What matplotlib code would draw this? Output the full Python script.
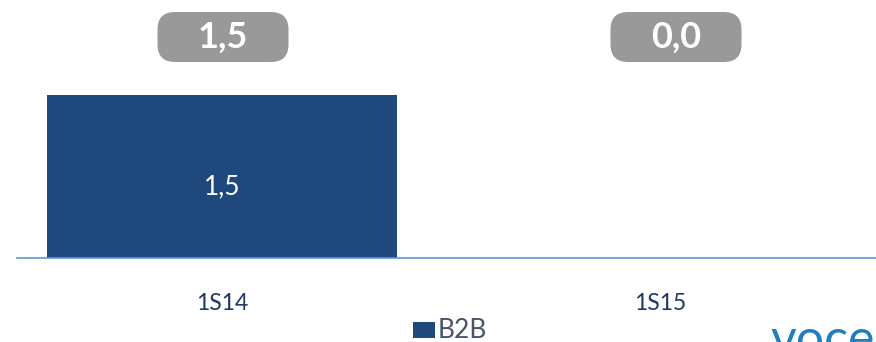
import matplotlib
matplotlib.use("Agg")
from matplotlib import pyplot as plt
from matplotlib.patches import FancyBboxPatch

categories = ["1S14", "1S15"]
b2b = [1.5, 0.0]
totals = ["1,5", "0,0"]
series_name = "B2B"

plt.rcParams['font.family'] = ['Lato', 'DejaVu Sans']

fig = plt.figure(figsize=(8.76, 3.42), dpi=100)
W, H = 876, 342
# axes: from x=17 to 876 px, y=0 (baseline 258 px from top) to top of figure
ax = fig.add_axes([17 / W, (H - 258) / H, (876 - 17) / W, 258 / H])
x = list(range(len(categories)))
ax.bar(x, b2b, width=0.80, color="#1F497D", zorder=2)
ax.set_xlim((17 - 222) / 438, (876 - 222) / 438)
ax.set_ylim(0, 1.5 * 258 / 163)
for s in ["top", "right", "left"]:
    ax.spines[s].set_visible(False)
ax.spines["bottom"].set_color("#5B9BD5")
ax.spines["bottom"].set_linewidth(1.2)
ax.set_yticks([])
ax.set_xticks([])

for xi, v in zip(x, b2b):
    if v > 0:
        ax.text(xi, v * 0.435, f"{v:.1f}".replace(".", ","), color="white",
                ha="center", va="center", fontsize=19)

# category labels below axis
for xi, c in zip(x, categories):
    ax.text(xi, -45 / 163 * 1.5, c, ha="center", va="center",
            fontsize=16.5, color="#1F3864", clip_on=False)

# grey total boxes at the top
box_centers = [223, 676]
for cx, t in zip(box_centers, totals):
    bw, bh = 131, 50
    patch = FancyBboxPatch(((cx - bw / 2) / W, (H - 62) / H), bw / W, bh / H,
                           boxstyle="round,pad=0,rounding_size=0.02",
                           transform=fig.transFigure, facecolor="#999999",
                           edgecolor="none", mutation_aspect=W / H)
    fig.patches.append(patch)
    fig.text(cx / W, (H - 37) / H, t, ha="center", va="center",
             fontsize=26, fontweight="bold", color="white")

# legend
fig.patches.append(plt.Rectangle((413 / W, (H - 338) / H), 22 / W, 16 / H,
                                 transform=fig.transFigure, facecolor="#1F497D"))
fig.text(438 / W, (H - 331) / H, series_name, ha="left", va="center",
         fontsize=19, color="#44546A")

# partial logo text in the corner
fig.text(770 / W, (H - 364) / H, "voce", ha="left", va="bottom",
         fontsize=36, color="#1F7EC1")

fig.savefig("out.png", dpi=100)
